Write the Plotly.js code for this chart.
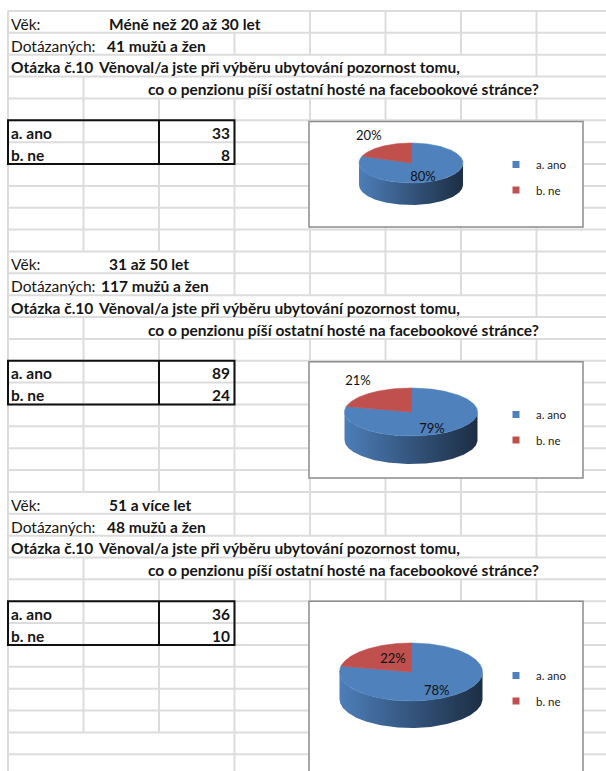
<!DOCTYPE html>
<html>
<head>
<meta charset="utf-8">
<script src="https://cdn.plot.ly/plotly-3.0.1.min.js"></script>
<style>
  html, body { margin: 0; padding: 0; background: #ffffff; }
  #sheet { width: 606px; height: 771px; }
</style>
</head>
<body>
<div id="sheet"></div>
<script>
// ---- Survey data: question 10, answers by age group ----
const ageGroups = ['Méně než 20 až 30 let', '31 až 50 let', '51 a více let'];
const respondents = [41, 117, 48];
const categories = ['a. ano', 'b. ne'];
const answersYes = [33, 89, 36];
const answersNo = [8, 24, 10];

const ageLabel = 'Věk:';
const respondentsLabel = 'Dotázaných:';
const respondentsSuffix = ' mužů a žen';
const questionNo = 'Otázka č.10';
const questionLine1 = 'Věnoval/a jste při výběru ubytování pozornost tomu,';
const questionLine2 = 'co o penzionu píší ostatní hosté na facebookové stránce?';

// ---- Sheet geometry (pixels) ----
const W = 606, H = 771;
const GRID = { x0: 8, colW: 75.5, y0: 11, rowH: 21.86, cols: 9, rows: 35 };
const SECTION_ROWS = 11;
const colX = c => GRID.x0 + c * GRID.colW;
const rowY = r => GRID.y0 + r * GRID.rowH;
const rowMid = r => rowY(r) + GRID.rowH / 2 + 1.8;

const sliceColors = ['#4f81bd', '#c0504d'];
const gridColor = '#dcdcdc';
const ink = '#161616';
const sheetFont = 'Lato, "Open Sans", sans-serif';
const SHEET_SIZE = 15.5;
const countX = [106, 100, 106];

// One 3-D pie per age group, laid over the sheet
const chartStyle = [
  { box: [309, 121.5, 583, 227], cx: 411, cy: 163, rx: 52, ry: 20, depth: 22,
    labelK: [[0.40, 0.92], [1.41, 1.61]], legendTop: 150 },
  { box: [309, 361.8, 583, 478], cx: 411, cy: 412, rx: 66.5, ry: 24, depth: 28,
    labelK: [[0.51, 0.95], [1.29, 1.59]], legendTop: 400 },
  { box: [309, 601.2, 583, 800], cx: 411, cy: 672, rx: 71.5, ry: 29, depth: 27,
    labelK: [[0.57, 0.88], [0.40, 0.53]], legendTop: 661 }
];

// ---- helpers ----
function shade(hex, f) {
  const n = parseInt(hex.slice(1), 16);
  const r = Math.round(((n >> 16) & 255) * f);
  const g = Math.round(((n >> 8) & 255) * f);
  const b = Math.round((n & 255) * f);
  return `rgb(${r},${g},${b})`;
}
const rad = d => d * Math.PI / 180;
function ellipsePoint(st, deg, dy) {
  return [st.cx + st.rx * Math.sin(rad(deg)), st.cy - st.ry * Math.cos(rad(deg)) + (dy || 0)];
}

// ---- grid lines ----
const shapes = [];
for (let k = 0; k <= GRID.rows; k++) {
  shapes.push({ type: 'line', layer: 'below', x0: colX(0), x1: W + 10, y0: rowY(k), y1: rowY(k),
    line: { color: gridColor, width: 2 } });
}
// text spilling across cells hides the vertical grid line underneath
function vHidden(r, c) {
  const s = Math.floor(r / SECTION_ROWS), role = r % SECTION_ROWS;
  if (role === 0) return c === 1 || c === 2 || (s === 0 && c === 3);
  if (role === 1) return c === 1 || c === 2;
  if (role === 2) return c >= 1 && c <= 6;
  if (role === 3) return c >= 2 && c <= 7;
  return false;
}
for (let c = 0; c < GRID.cols; c++) {
  let start = null;
  for (let r = 0; r <= GRID.rows; r++) {
    const vis = r < GRID.rows && !vHidden(r, c);
    if (vis && start === null) start = r;
    if (!vis && start !== null) {
      shapes.push({ type: 'line', layer: 'below', x0: colX(c), x1: colX(c), y0: rowY(start), y1: rowY(r),
        line: { color: gridColor, width: 2 } });
      start = null;
    }
  }
}

// ---- cell texts ----
const annotations = [];
function cellText(x, r, text, bold, align) {
  annotations.push({
    x: x, y: rowMid(r), xref: 'x', yref: 'y', text: text, showarrow: false,
    xanchor: align || 'left', yanchor: 'middle', borderpad: 0,
    font: { family: sheetFont, size: SHEET_SIZE, color: ink, weight: bold ? 'bold' : 'normal' }
  });
}

const traces = [];
ageGroups.forEach((age, s) => {
  const b = s * SECTION_ROWS;
  const values = [answersYes[s], answersNo[s]];
  cellText(10, b, ageLabel, false);
  cellText(108, b, age, true);
  cellText(10, b + 1, respondentsLabel, false);
  cellText(countX[s], b + 1, respondents[s] + respondentsSuffix, true);
  cellText(10, b + 2, questionNo, true);
  cellText(97, b + 2, questionLine1, true);
  cellText(147, b + 3, questionLine2, true);
  categories.forEach((cat, i) => {
    cellText(10, b + 5 + i, cat, true);
    cellText(231, b + 5 + i, String(values[i]), true, 'right');
  });

  // answer table border
  shapes.push({ type: 'rect', layer: 'above', x0: colX(0), x1: colX(3), y0: rowY(b + 5), y1: rowY(b + 7),
    line: { color: '#111', width: 2 } });
  shapes.push({ type: 'line', layer: 'above', x0: colX(2), x1: colX(2), y0: rowY(b + 5), y1: rowY(b + 7),
    line: { color: '#111', width: 2 } });

  // chart frame
  const st = chartStyle[s];
  shapes.push({ type: 'rect', layer: 'below', x0: st.box[0], x1: st.box[2], y0: st.box[1], y1: st.box[3],
    fillcolor: '#ffffff', line: { color: '#8c8c8c', width: 1.5 } });

  // slices: clockwise from 12 o'clock
  const total = values.reduce((a, v) => a + v, 0);
  let acc = 0;
  const spans = values.map(v => { const a0 = acc / total * 360; acc += v; return [a0, acc / total * 360]; });

  // visible side wall (front half of the disc)
  spans.forEach((sp, i) => {
    const a0 = Math.max(sp[0], 90), a1 = Math.min(sp[1], 270);
    if (a1 <= a0) return;
    const xs = [], ys = [];
    for (let d = a0; d <= a1; d += 1) { const p = ellipsePoint(st, d); xs.push(p[0]); ys.push(p[1]); }
    for (let d = a1; d >= a0; d -= 1) { const p = ellipsePoint(st, d, st.depth); xs.push(p[0]); ys.push(p[1]); }
    const c = sliceColors[i];
    traces.push({ type: 'scatter', x: xs, y: ys, mode: 'lines', fill: 'toself', hoverinfo: 'skip',
      line: { width: 0 }, showlegend: false,
      fillgradient: { type: 'horizontal',
        colorscale: [[0, shade(c, 0.98)], [0.5, shade(c, 0.66)], [1, shade(c, 0.36)]] } });
  });

  // top faces
  spans.forEach((sp, i) => {
    const xs = [st.cx], ys = [st.cy];
    for (let d = sp[0]; d <= sp[1] + 1e-9; d += 0.5) { const p = ellipsePoint(st, d); xs.push(p[0]); ys.push(p[1]); }
    const pe = ellipsePoint(st, sp[1]); xs.push(pe[0], st.cx); ys.push(pe[1], st.cy);
    traces.push({ type: 'scatter', x: xs, y: ys, mode: 'lines', fill: 'toself', hoverinfo: 'skip',
      fillcolor: sliceColors[i], line: { width: 0.6, color: sliceColors[i] }, showlegend: false });
  });

  // percentage labels
  const lx = [], ly = [], lt = [];
  spans.forEach((sp, i) => {
    const m = (sp[0] + sp[1]) / 2, k = st.labelK[i];
    lx.push(st.cx + k[0] * st.rx * Math.sin(rad(m)));
    ly.push(st.cy - k[1] * st.ry * Math.cos(rad(m)));
    lt.push(Math.round(values[i] / total * 100) + '%');
  });
  traces.push({ type: 'scatter', x: lx, y: ly, text: lt, mode: 'text', hoverinfo: 'skip', showlegend: false,
    textposition: 'middle center', textfont: { family: sheetFont, size: 13, color: '#111' } });

  // legend entries
  const legendKey = s === 0 ? 'legend' : 'legend' + (s + 1);
  categories.forEach((cat, i) => {
    traces.push({ type: 'scatter', x: [null], y: [null], mode: 'markers', name: cat,
      legend: legendKey, legendgroup: legendKey + '-' + i, showlegend: true, hoverinfo: 'skip',
      marker: { symbol: 'square', size: 7, color: sliceColors[i] } });
  });
});

const layout = {
  width: W, height: H,
  margin: { l: 0, r: 0, t: 0, b: 0 },
  paper_bgcolor: '#ffffff', plot_bgcolor: '#ffffff',
  xaxis: { range: [0, W], visible: false, fixedrange: true },
  yaxis: { range: [H, 0], visible: false, fixedrange: true },
  shapes: shapes,
  annotations: annotations
};
chartStyle.forEach((st, s) => {
  const key = s === 0 ? 'legend' : 'legend' + (s + 1);
  layout[key] = {
    x: 496 / W, xanchor: 'left', y: 1 - st.legendTop / H, yanchor: 'top',
    bgcolor: 'rgba(0,0,0,0)', borderwidth: 0, tracegroupgap: 6.5,
    font: { family: sheetFont, size: 11.5, color: '#222' }
  };
});

Plotly.newPlot('sheet', traces, layout, { staticPlot: true, displayModeBar: false });
</script>
</body>
</html>
